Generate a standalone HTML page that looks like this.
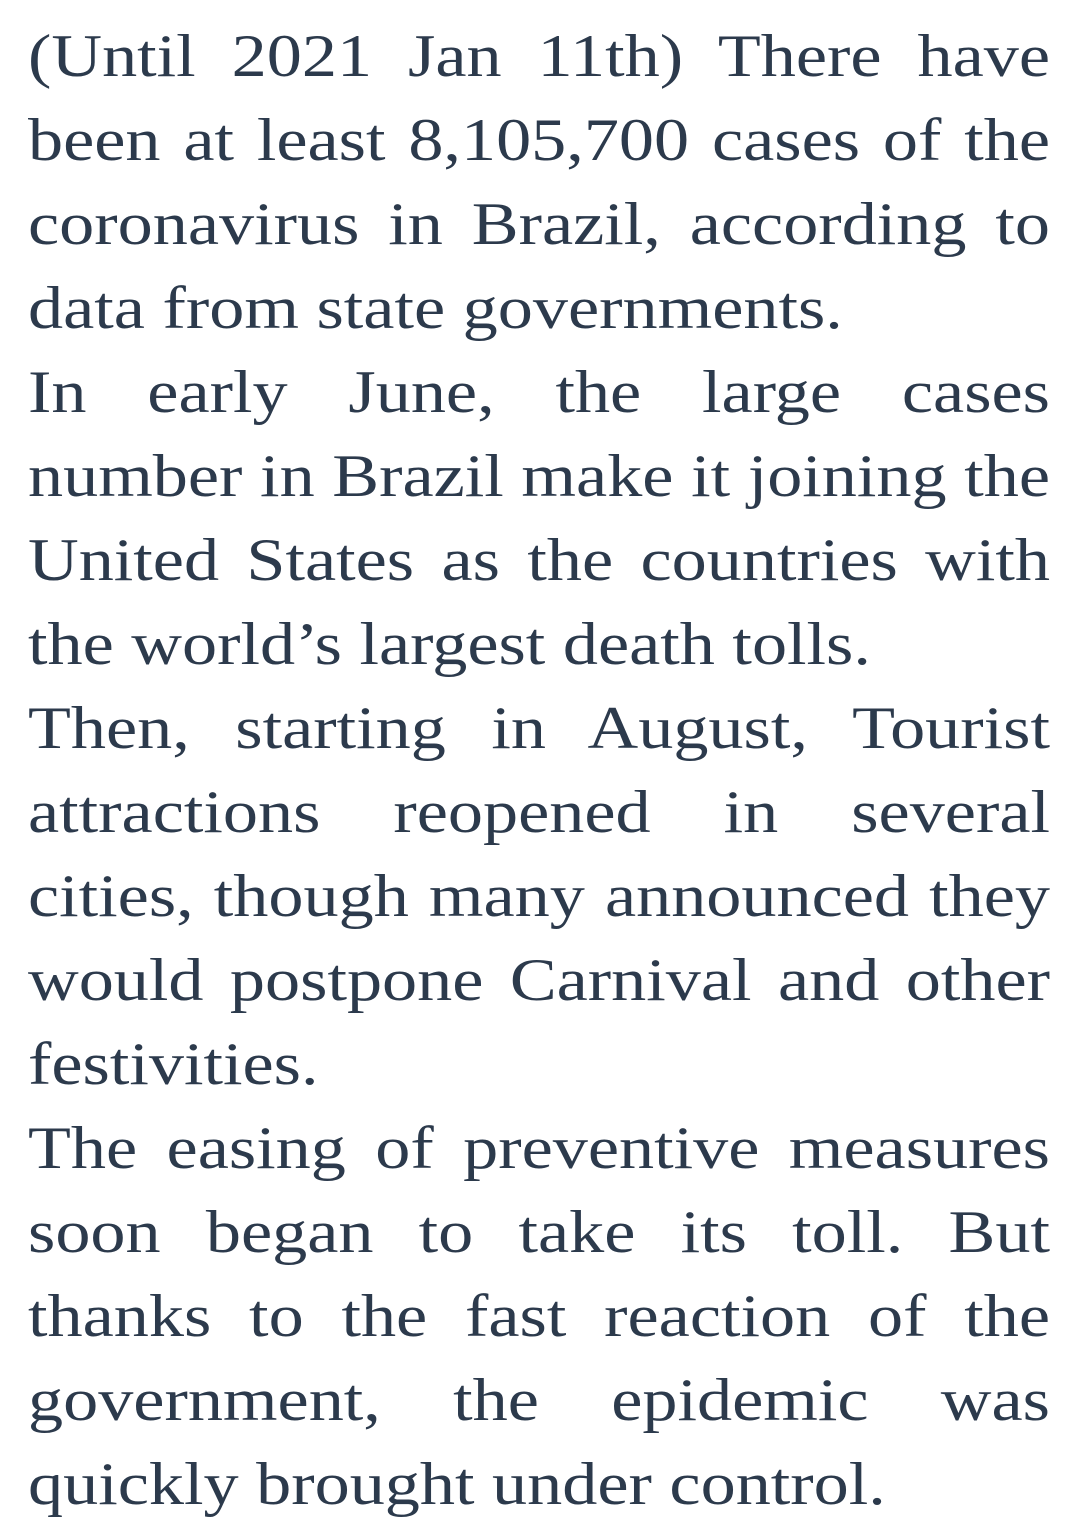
<!DOCTYPE html>
<html><head><meta charset="utf-8"><style>
html,body{margin:0;padding:0;background:#fff;}
body{width:1082px;height:1536px;overflow:hidden;}
#text{position:absolute;left:28px;top:14px;width:1022px;font-family:"Liberation Serif",serif;font-size:60px;line-height:84px;color:#2c3a4c;}
.l,.e{width:873.5px;transform:scaleX(1.17);transform-origin:0 0;white-space:nowrap;}
.l{text-align:justify;text-align-last:justify;}
.e{text-align:left;}
</style></head><body>
<div id="text">
<div>
<div class="l">(Until 2021 Jan 11th) There have</div>
<div class="l">been at least 8,105,700 cases of the</div>
<div class="l">coronavirus in Brazil, according to</div>
<div class="e">data from state governments.</div>
</div>
<div>
<div class="l">In early June, the large cases</div>
<div class="l">number in Brazil make it joining the</div>
<div class="l">United States as the countries with</div>
<div class="e">the world’s largest death tolls.</div>
</div>
<div>
<div class="l">Then, starting in August, Tourist</div>
<div class="l">attractions reopened in several</div>
<div class="l">cities, though many announced they</div>
<div class="l">would postpone Carnival and other</div>
<div class="e">festivities.</div>
</div>
<div>
<div class="l">The easing of preventive measures</div>
<div class="l">soon began to take its toll. But</div>
<div class="l">thanks to the fast reaction of the</div>
<div class="l">government, the epidemic was</div>
<div class="e">quickly brought under control.</div>
</div>
</div>
</body></html>
